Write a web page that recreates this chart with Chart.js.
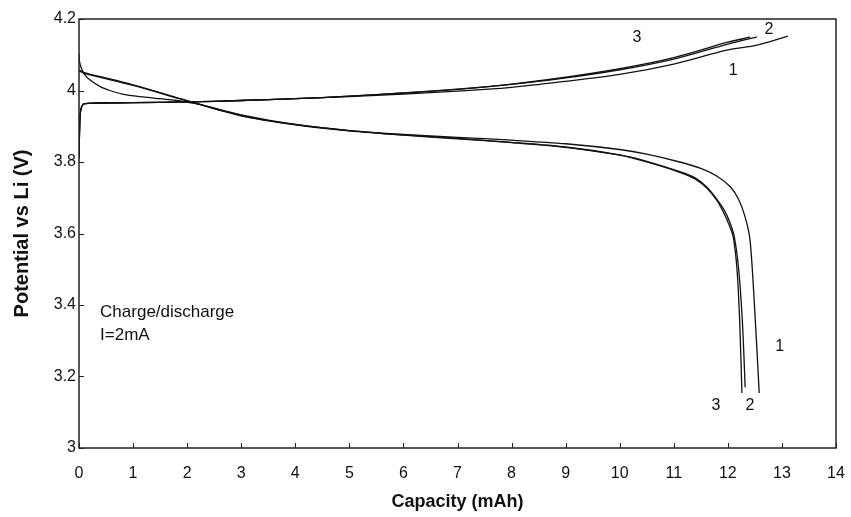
<!DOCTYPE html>
<html>
<head>
<meta charset="utf-8">
<script src="https://cdn.jsdelivr.net/npm/chart.js@4/dist/chart.umd.min.js"></script>
<style>
  html, body { margin: 0; padding: 0; background: #fff; }
  #wrap { width: 851px; height: 517px; }
</style>
</head>
<body>
<div id="wrap"><canvas id="grafico"></canvas></div>
<script>
// axis ticks
const xTicks = [0, 1, 2, 3, 4, 5, 6, 7, 8, 9, 10, 11, 12, 13, 14];
const yTicks = [3, 3.2, 3.4, 3.6, 3.8, 4, 4.2];

// charge curves (capacity mAh, potential V)
const cap1c = [0, 0.02, 0.05, 0.1, 0.3, 1, 2, 3, 4, 5, 6, 7, 8, 8.9, 10, 11, 11.98, 12.54, 13.11];
const pot1c = [3.82, 3.93, 3.955, 3.963, 3.965, 3.966, 3.968, 3.972, 3.977, 3.983, 3.99, 3.998, 4.009, 4.024, 4.045, 4.074, 4.113, 4.127, 4.152];
const cap2c = [0, 0.02, 0.05, 0.1, 0.3, 1, 2, 3, 4, 5, 6, 7, 8, 8.9, 10, 11, 12, 12.54];
const pot2c = [3.81, 3.93, 3.955, 3.963, 3.965, 3.966, 3.968, 3.972, 3.977, 3.984, 3.993, 4.003, 4.017, 4.033, 4.058, 4.088, 4.13, 4.15];
const cap3c = [0, 0.02, 0.05, 0.1, 0.3, 1, 2, 3, 4, 5, 6, 7, 8, 8.9, 10, 11, 12, 12.41];
const pot3c = [3.81, 3.93, 3.955, 3.963, 3.965, 3.966, 3.968, 3.972, 3.977, 3.984, 3.993, 4.004, 4.018, 4.035, 4.061, 4.092, 4.135, 4.149];

// discharge curves
const cap1d = [0, 0.01, 0.05, 0.1, 0.2, 0.4, 0.57, 0.8, 1.18, 1.5, 1.8, 2.2, 3, 4, 5, 6, 7, 8, 9, 10, 10.5, 11.11, 11.5, 11.8, 12.05, 12.2, 12.32, 12.41, 12.5, 12.58];
const pot1d = [4.105, 4.08, 4.06, 4.045, 4.03, 4.01, 4.0, 3.99, 3.982, 3.977, 3.972, 3.962, 3.932, 3.905, 3.888, 3.877, 3.869, 3.861, 3.851, 3.835, 3.822, 3.8, 3.782, 3.76, 3.73, 3.695, 3.646, 3.582, 3.378, 3.154];
const cap2d = [0, 0.1, 1, 2, 3, 4, 5, 6, 7, 8, 9, 10, 10.5, 11.11, 11.4, 11.61, 11.8, 11.93, 12.04, 12.12, 12.2, 12.27, 12.32];
const pot2d = [4.058, 4.05, 4.016, 3.972, 3.93, 3.905, 3.888, 3.876, 3.866, 3.855, 3.842, 3.82, 3.802, 3.773, 3.755, 3.73, 3.695, 3.666, 3.63, 3.59, 3.5, 3.35, 3.17];
const cap3d = [0, 0.1, 1, 2, 3, 4, 5, 6, 7, 8, 9, 10, 10.5, 11.11, 11.4, 11.61, 11.8, 11.91, 12.02, 12.1, 12.17, 12.22, 12.26];
const pot3d = [4.055, 4.048, 4.014, 3.971, 3.929, 3.904, 3.887, 3.875, 3.865, 3.854, 3.841, 3.819, 3.8, 3.771, 3.752, 3.727, 3.692, 3.662, 3.625, 3.59, 3.498, 3.35, 3.154];

// curve labels [text, capacity, potential]
const curveLabels = [
  ["3", 10.32, 4.147], ["2", 12.76, 4.169], ["1", 12.1, 4.057],
  ["3", 11.78, 3.12], ["2", 12.41, 3.12], ["1", 12.96, 3.285]
];
const noteLines = ["Charge/discharge", "I=2mA"];

const toPoints = (xs, ys) => xs.map((x, i) => ({x: x, y: ys[i]}));

const serie = (xs, ys) => ({
  data: toPoints(xs, ys),
  showLine: true,
  borderColor: "#111",
  borderWidth: 1.3,
  pointRadius: 0,
  tension: 0.3,
  fill: false
});

const marco = {
  id: "marco",
  afterDraw(chart) {
    const ctx = chart.ctx;
    const a = chart.chartArea;
    const sx = chart.scales.x;
    const sy = chart.scales.y;
    ctx.save();
    ctx.strokeStyle = "#222";
    ctx.lineWidth = 1.5;
    ctx.strokeRect(a.left, a.top, a.right - a.left, a.bottom - a.top);
    ctx.lineWidth = 1;
    ctx.beginPath();
    xTicks.forEach(v => {
      const px = Math.round(sx.getPixelForValue(v)) + 0.5;
      ctx.moveTo(px, a.bottom);
      ctx.lineTo(px, a.bottom - 5);
    });
    yTicks.forEach(v => {
      const py = Math.round(sy.getPixelForValue(v)) + 0.5;
      ctx.moveTo(a.left, py);
      ctx.lineTo(a.left + 5, py);
    });
    ctx.stroke();

    ctx.fillStyle = "#111";
    ctx.font = "16px 'Liberation Sans', Arial, sans-serif";
    ctx.textAlign = "center";
    ctx.textBaseline = "middle";
    curveLabels.forEach(l => {
      ctx.fillText(l[0], sx.getPixelForValue(l[1]), sy.getPixelForValue(l[2]));
    });
    ctx.font = "17px 'Liberation Sans', Arial, sans-serif";
    ctx.textAlign = "left";
    ctx.fillText(noteLines[0], sx.getPixelForValue(0.39), sy.getPixelForValue(3.38));
    ctx.fillText(noteLines[1], sx.getPixelForValue(0.39), sy.getPixelForValue(3.316));
    ctx.restore();
  }
};

const config = {
  type: "scatter",
  data: {
    datasets: [
      serie(cap1c, pot1c), serie(cap2c, pot2c), serie(cap3c, pot3c),
      serie(cap1d, pot1d), serie(cap2d, pot2d), serie(cap3d, pot3d)
    ]
  },
  options: {
    responsive: true,
    maintainAspectRatio: false,
    animation: false,
    layout: { padding: { top: 19, right: 15, bottom: 0, left: 0 } },
    scales: {
      x: {
        type: "linear",
        min: 0,
        max: 14,
        afterBuildTicks: s => { s.ticks = xTicks.map(v => ({value: v})); },
        afterFit: s => { s.height = 69; s.paddingRight = 0; s.paddingLeft = 0; },
        grid: { display: false, drawTicks: false },
        border: { display: false },
        ticks: {
          color: "#111",
          padding: 16,
          font: { family: "'Liberation Sans', Arial, sans-serif", size: 16 },
          maxRotation: 0
        },
        title: {
          display: true,
          text: "Capacity (mAh)",
          color: "#111",
          padding: { top: 10 },
          font: { family: "'Liberation Sans', Arial, sans-serif", size: 18, weight: "bold" }
        }
      },
      y: {
        type: "linear",
        min: 3,
        max: 4.2,
        afterBuildTicks: s => { s.ticks = yTicks.map(v => ({value: v})); },
        afterFit: s => { s.width = 79; s.paddingTop = 0; s.paddingBottom = 0; },
        grid: { display: false, drawTicks: false },
        border: { display: false },
        ticks: {
          color: "#111",
          padding: 3,
          font: { family: "'Liberation Sans', Arial, sans-serif", size: 16 },
          callback: v => String(+v.toFixed(1))
        },
        title: {
          display: true,
          text: "Potential vs Li (V)",
          color: "#111",
          padding: { top: 10, bottom: 0 },
          font: { family: "'Liberation Sans', Arial, sans-serif", size: 20, weight: "bold" }
        }
      }
    },
    plugins: {
      legend: { display: false },
      tooltip: { enabled: false }
    }
  },
  plugins: [marco]
};

const miGrafico = new Chart(document.getElementById("grafico"), config);
</script>
</body>
</html>
